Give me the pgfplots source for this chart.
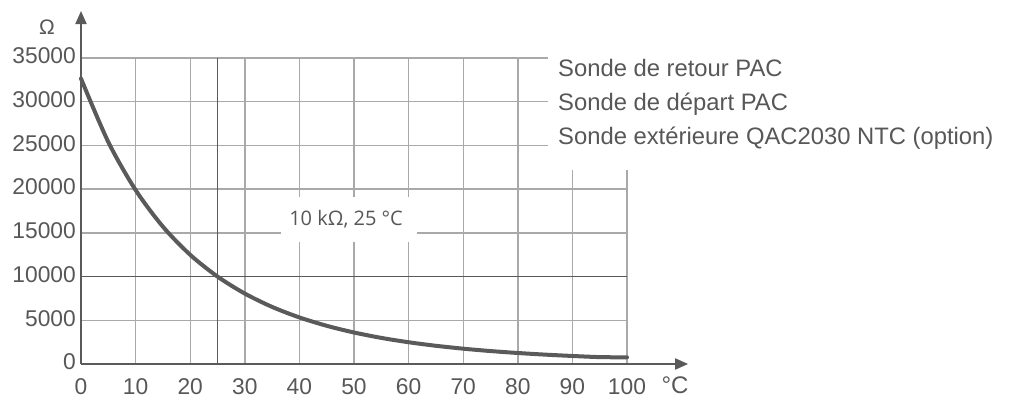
\documentclass[border=0pt]{standalone}
\usepackage{fontspec}
\setmainfont{Liberation Sans}
\newfontfamily\notefont{Open Sans}
\usepackage{pgfplots}
\pgfplotsset{compat=1.18}
\usetikzlibrary{arrows.meta}
\definecolor{txt}{HTML}{575757}
\definecolor{gridc}{HTML}{A9A9A9}
\definecolor{darkl}{HTML}{5A5A5A}

% NTC 10 kOhm resistance (Ohm) vs temperature (degC)
\pgfplotstableread{
T R
0 32650
5 25390
10 19900
15 15710
20 12490
25 10000
30 8057
35 6530
40 5327
45 4370
50 3603
55 2986
60 2488
65 2083
70 1752
75 1481
80 1258
85 1072
90 918
95 789
100 760
}\ntc

\begin{document}
\begin{tikzpicture}
\useasboundingbox (0,0) rectangle (1015pt,401pt);
\begin{axis}[
    at={(81pt,37pt)}, anchor=south west,
    scale only axis, width=546pt, height=306pt,
    xmin=0, xmax=100, ymin=0, ymax=35000,
    clip=false,
    axis line style={draw=none},
    major tick length=0pt,
    xtick={0,10,...,100},
    ytick={0,5000,...,35000},
    scaled y ticks=false,
    /pgf/number format/assume math mode=true,
    /pgf/number format/set thousands separator={},
    tick label style={font=\fontsize{22.8}{27}\selectfont, text=txt, inner sep=0pt},
    xticklabel style={anchor=north, yshift=-14pt},
    yticklabel style={anchor=east, xshift=-5pt, yshift=2pt},
  ]
  % grid
  \pgfplotsinvokeforeach{10,20,30,40,50,60,70,80}{
    \draw[gridc, line width=1.4pt] (axis cs:#1,0) -- (axis cs:#1,35000);
  }
  \pgfplotsinvokeforeach{90,100}{
    \draw[gridc, line width=1.4pt] (axis cs:#1,0) -- (axis cs:#1,22190);
  }
  \pgfplotsinvokeforeach{5000,15000,20000}{
    \draw[gridc, line width=1.4pt] (axis cs:0,#1) -- (axis cs:100,#1);
  }
  \pgfplotsinvokeforeach{25000,30000,35000}{
    \draw[gridc, line width=1.4pt] (axis cs:0,#1) -- (axis cs:85.5,#1);
  }
  \draw[darkl, line width=1.4pt] (axis cs:0,10000) -- (axis cs:100,10000);
  \draw[darkl, line width=1.4pt] (axis cs:25,0) -- (axis cs:25,35000);
  % note
  \node[fill=white, minimum width=136pt, minimum height=45pt, inner sep=0pt,
        text=txt, font=\notefont\fontsize{20}{24}\selectfont]
        at (axis cs:49.1,16530) {\hspace{-6pt}10 kΩ, 25 °C};
  % curve
  \addplot[darkl, line width=4pt, smooth, line cap=round] table[x=T, y=R] {\ntc};
  % axes
  \draw[darkl, line width=2pt, -{Triangle[length=13pt,width=11pt]}]
    (axis cs:0,0) -- (axis cs:111.2,0);
  \draw[darkl, line width=2pt, -{Triangle[length=13pt,width=11pt]}]
    (axis cs:0,0) -- (axis cs:0,40375);
\end{axis}
\begin{scope}[every node/.style={text=txt, inner sep=0pt}]
  \node[anchor=base west, font=\fontsize{23.8}{28}\selectfont] at (558pt,324pt) {Sonde de retour PAC};
  \node[anchor=base west, font=\fontsize{23.8}{28}\selectfont] at (558pt,290pt) {Sonde de départ PAC};
  \node[anchor=base west, font=\fontsize{23.8}{28}\selectfont] at (558pt,256pt) {Sonde extérieure QAC2030 NTC (option)};
  \node[font=\fontsize{21}{25}\selectfont] at (47pt,374pt) {Ω};
  \node[anchor=base, font=\fontsize{24}{28}\selectfont] at (675pt,7pt) {°C};
\end{scope}
\end{tikzpicture}
\end{document}
